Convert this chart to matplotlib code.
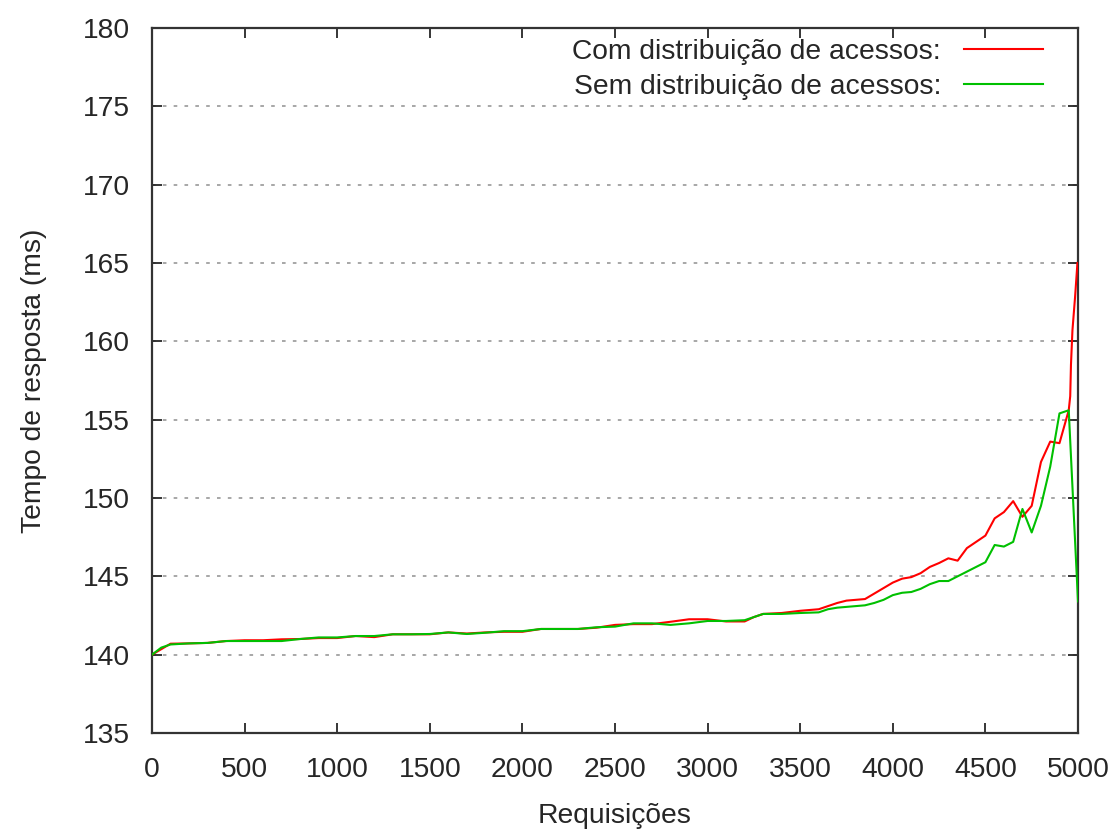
import matplotlib
matplotlib.use("Agg")
import matplotlib.pyplot as plt

plt.rcParams['font.family'] = ['Liberation Sans', 'DejaVu Sans']

# Data
x_com = [0, 50, 100, 200, 300, 400, 500, 600, 700, 800, 900, 1000, 1100, 1200, 1300,
         1400, 1500, 1600, 1700, 1800, 1900, 2000, 2100, 2200, 2300, 2400, 2500, 2600,
         2700, 2800, 2900, 3000, 3100, 3200, 3250, 3300, 3400, 3500, 3600, 3650, 3700,
         3750, 3800, 3850, 3900, 3950, 4000, 4050, 4100, 4150, 4200, 4250, 4300, 4350,
         4400, 4450, 4500, 4550, 4600, 4650, 4700, 4750, 4800, 4850, 4900, 4950, 4958,
         4962, 4970, 4984, 4997]
y_com = [140.0, 140.35, 140.7, 140.72, 140.75, 140.87, 140.92, 140.92, 140.98, 141.0,
         141.06, 141.06, 141.19, 141.12, 141.3, 141.3, 141.3, 141.42, 141.35, 141.42,
         141.46, 141.46, 141.64, 141.64, 141.64, 141.72, 141.9, 141.95, 141.95, 142.1,
         142.26, 142.26, 142.12, 142.12, 142.4, 142.6, 142.66, 142.8, 142.9, 143.1, 143.3,
         143.45, 143.5, 143.55, 143.9, 144.25, 144.6, 144.85, 144.95, 145.2, 145.6, 145.85,
         146.15, 146.0, 146.8, 147.2, 147.6, 148.7, 149.1, 149.8, 148.8, 149.5, 152.3,
         153.6, 153.5, 155.6, 156.5, 158.5, 160.7, 162.8, 165.0]

x_sem = [0, 50, 100, 200, 300, 400, 500, 600, 700, 800, 900, 1000, 1100, 1200, 1300,
         1400, 1500, 1600, 1700, 1800, 1900, 2000, 2100, 2200, 2300, 2400, 2500, 2600,
         2700, 2800, 2900, 3000, 3100, 3200, 3250, 3300, 3400, 3500, 3600, 3650, 3700,
         3800, 3850, 3900, 3950, 4000, 4050, 4100, 4150, 4200, 4250, 4300, 4350, 4400,
         4450, 4500, 4550, 4600, 4650, 4700, 4750, 4800, 4850, 4900, 4950, 5000]
y_sem = [140.0, 140.45, 140.65, 140.72, 140.75, 140.87, 140.87, 140.87, 140.87, 141.0,
         141.1, 141.1, 141.19, 141.19, 141.3, 141.3, 141.32, 141.42, 141.32, 141.4, 141.5,
         141.5, 141.64, 141.64, 141.64, 141.75, 141.79, 142.0, 142.0, 141.9, 142.0, 142.15,
         142.15, 142.2, 142.4, 142.6, 142.6, 142.66, 142.7, 142.9, 143.0, 143.1, 143.15,
         143.3, 143.5, 143.8, 143.95, 144.0, 144.2, 144.5, 144.7, 144.7, 145.0, 145.3,
         145.6, 145.9, 147.0, 146.9, 147.2, 149.3, 147.8, 149.5, 152.0, 155.4, 155.6, 143.4]

x_ticks = [0, 500, 1000, 1500, 2000, 2500, 3000, 3500, 4000, 4500, 5000]
y_ticks = [135, 140, 145, 150, 155, 160, 165, 170, 175, 180]

label_com = "Com distribuição de acessos:"
label_sem = "Sem distribuição de acessos:"

FS = 20.3
TXT = '#262626'

fig = plt.figure(figsize=(11.13, 8.32), dpi=100)
ax = fig.add_axes([152/1113, 1 - 733/832, (1078 - 152)/1113, (733 - 28)/832])

ax.plot(x_com, y_com, color='#ff0000', lw=1.5, label=label_com, zorder=3)
ax.plot(x_sem, y_sem, color='#00c000', lw=1.5, label=label_sem, zorder=3)

ax.set_xlim(0, 5000)
ax.set_ylim(135, 180)
ax.set_xticks(x_ticks)
ax.set_yticks(y_ticks)

for yv in y_ticks[1:-1]:
    ax.axhline(yv, color='#a0a0a0', lw=1.3, ls=(0, (2, 4)), zorder=1)

ax.tick_params(direction='in', length=7, width=1.3, top=True, right=True,
               labelsize=FS, colors=TXT)
ax.tick_params(axis='x', pad=17)
ax.tick_params(axis='y', pad=16)
for s in ax.spines.values():
    s.set_linewidth(1.6)
    s.set_color('#333333')

ax.set_xlabel("Requisições", fontsize=FS, color=TXT, labelpad=15)
ax.set_ylabel("Tempo de resposta (ms)", fontsize=FS, color=TXT, labelpad=26)

leg = ax.legend(loc='upper right', frameon=False, markerfirst=False, fontsize=FS,
                handlelength=2.8, handletextpad=0.8, labelspacing=0.3,
                borderaxespad=0.0, bbox_to_anchor=(0.974, 1.0))
for t in leg.get_texts():
    t.set_color(TXT)

fig.savefig("out.png", dpi=100)
